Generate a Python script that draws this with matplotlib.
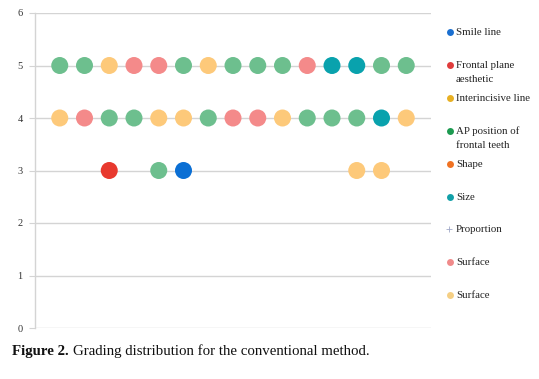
import matplotlib
matplotlib.use("Agg")
import matplotlib.pyplot as plt
from matplotlib.lines import Line2D

# ---- data ----
raters = list(range(1, 16))
row_grade_5 = ["AP", "AP", "Surface2", "Surface", "Surface", "AP", "Surface2", "AP",
               "AP", "AP", "Surface", "Size", "Size", "AP", "AP"]
row_grade_4 = ["Surface2", "Surface", "AP", "AP", "Surface2", "Surface2", "AP", "Surface",
               "Surface", "Surface2", "AP", "AP", "AP", "Size", "Surface2"]
grade_3_raters = [3, 5, 6, 13, 14]
grade_3_series = ["Frontal", "AP", "Smile", "Surface2", "Surface2"]

series_keys = ["Smile", "Frontal", "Interincisive", "AP", "Shape", "Size", "Proportion",
               "Surface", "Surface2"]
legend_labels = ["Smile line", "Frontal plane\naesthetic", "Interincisive line",
                 "AP position of\nfrontal teeth", "Shape", "Size", "Proportion",
                 "Surface", "Surface"]
y_ticks = [0, 1, 2, 3, 4, 5, 6]

# ---- styles ----
point_colors = {"Smile": "#0B6FD4", "Frontal": "#E8392E", "Interincisive": "#E8B023",
                "AP": "#6DBF8E", "Shape": "#F07222", "Size": "#09A2AD",
                "Proportion": "#A0A8C8", "Surface": "#F48A8A", "Surface2": "#FDC97A"}
legend_colors = {"Smile": "#1A6FD0", "Frontal": "#E03C3C", "Interincisive": "#E8B023",
                 "AP": "#1C9A50", "Shape": "#F07222", "Size": "#12A0A8",
                 "Proportion": "#A0A8C8", "Surface": "#F08A8A", "Surface2": "#F5CF84"}

# build per-series point lists
pts = {k: ([], []) for k in series_keys}
for r, s in zip(raters, row_grade_5):
    pts[s][0].append(r); pts[s][1].append(5)
for r, s in zip(raters, row_grade_4):
    pts[s][0].append(r); pts[s][1].append(4)
for r, s in zip(grade_3_raters, grade_3_series):
    pts[s][0].append(r); pts[s][1].append(3)

W, H = 539, 379
fig = plt.figure(figsize=(W / 100, H / 100), dpi=100)
ax = fig.add_axes([35 / W, 1 - 328 / H, (431 - 35) / W, (328 - 13) / H])

for k in series_keys:
    xs, ys = pts[k]
    if xs:
        ax.scatter(xs, ys, s=150, color=point_colors[k], edgecolors="none", zorder=3)

ax.set_xlim(0, 16)
ax.set_ylim(0, 6)
ax.set_yticks(y_ticks)
ax.set_xticks([])
for y in y_ticks:
    ax.axhline(y, color="#D4D4D4", lw=1.0, zorder=1)
for sp in ["top", "right", "bottom"]:
    ax.spines[sp].set_visible(False)
ax.spines["left"].set_color("#D4D4D4")
ax.spines["left"].set_linewidth(1.0)
ax.tick_params(axis="y", length=4, color="#D4D4D4", labelsize=7.5, pad=5,
               labelcolor="#333333")
for lab in ax.get_yticklabels():
    lab.set_fontfamily("Liberation Serif")

# legend (manual)
for i, (k, lab) in enumerate(zip(series_keys, legend_labels)):
    ypx = 32 + i * 32.9
    yf = 1 - ypx / H
    if k == "Proportion":
        fig.add_artist(Line2D([449 / W], [yf], marker="+", markersize=5, mew=0.6,
                              color=legend_colors[k], linestyle="none"))
    else:
        fig.add_artist(Line2D([450 / W], [yf], marker="o", markersize=5,
                              markeredgewidth=0, color=legend_colors[k],
                              linestyle="none"))
    for j, line in enumerate(lab.split("\n")):
        fig.text(456 / W, 1 - (ypx + 3 + j * 14.5) / H, line, fontsize=7.8,
                 family="Liberation Serif", va="baseline", ha="left", color="#222222")

# caption
t1 = fig.text(12 / W, 1 - 351 / H, "Figure 2.", fontsize=10.7, fontweight="bold",
              family="Liberation Serif", va="center", ha="left", color="#111111")
fig.canvas.draw()
bb = t1.get_window_extent(fig.canvas.get_renderer())
fig.text((bb.x1 + 4) / W, 1 - 351 / H,
         "Grading distribution for the conventional method.", fontsize=10.7,
         family="Liberation Serif", va="center", ha="left", color="#111111")

fig.savefig("out.png", dpi=100)
